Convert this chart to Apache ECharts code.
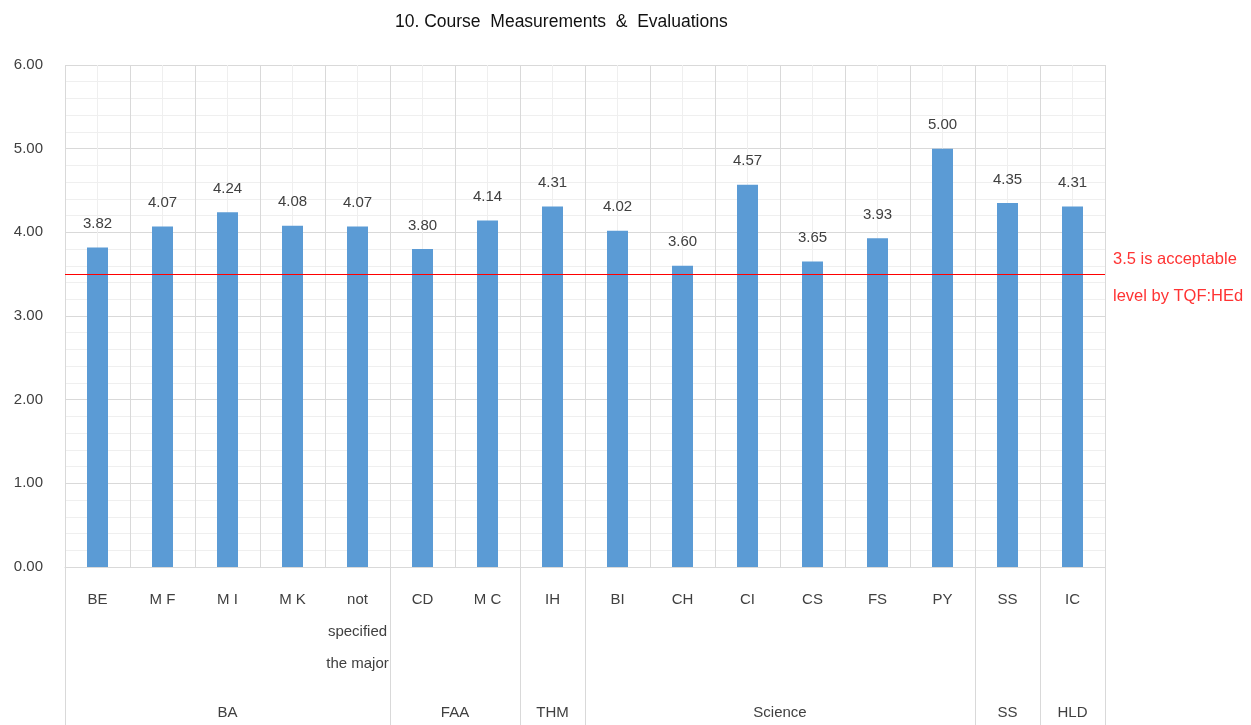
<!DOCTYPE html>
<html>
<head>
<meta charset="utf-8">
<script src="https://cdn.jsdelivr.net/npm/echarts@6/dist/echarts.min.js"></script>
<style>html,body{margin:0;padding:0;background:#fff;}#c{width:1251px;height:725px;}</style>
</head>
<body>
<div id="c"></div>
<script>
const categories = ['BE','M F','M I','M K','not\nspecified\nthe major','CD','M C','IH','BI','CH','CI','CS','FS','PY','SS','IC'];
const values = [3.82,4.07,4.24,4.08,4.07,3.80,4.14,4.31,4.02,3.60,4.57,3.65,3.93,5.00,4.35,4.31];
const groups = ['BA','FAA','THM','Science','SS','HLD'];
const groupSizes = [5,2,1,6,1,1];
const yTicks = [0,1,2,3,4,5,6];
const threshold = 3.5;
const thresholdText = '3.5 is acceptable\nlevel by TQF:HEd';
const titleText = '10. Course  Measurements  &  Evaluations';

// half-category slots for the group axis (boundaryGap false, 2*n+1 points)
const halfSlots = [];
for (let i = 0; i <= categories.length * 2; i++) halfSlots.push('');
const boundaryIdx = new Set([0]);
const groupLabelAt = {};
let acc = 0;
groups.forEach((g, i) => {
  const start = acc;
  acc += groupSizes[i];
  boundaryIdx.add(acc * 2);
  const mid = start + acc;
  groupLabelAt[mid] = g;
  halfSlots[mid] = g;
});

const font = 'Liberation Sans, Arial, sans-serif';
const chart = echarts.init(document.getElementById('c'));
chart.setOption({
  animation: false,
  textStyle: { fontFamily: font },
  title: {
    text: titleText,
    left: 390, top: 8,
    textStyle: { fontSize: 17.5, fontWeight: 'normal', color: '#111', fontFamily: font }
  },
  grid: { left: 65, right: 146, top: 65, bottom: 158 },
  xAxis: [
    {
      type: 'category',
      data: categories,
      boundaryGap: true,
      axisLine: { show: true, lineStyle: { color: '#d9d9d9', width: 1 } },
      axisTick: { show: false },
      splitLine: { show: true, lineStyle: { color: '#d9d9d9', width: 1 } },
      axisLabel: { interval: 0, color: '#404040', fontSize: 15, lineHeight: 32, margin: 17 }
    },
    {
      type: 'category',
      data: halfSlots,
      boundaryGap: false,
      position: 'bottom',
      axisLine: { show: false },
      axisTick: {
        show: true, length: 158, inside: false,
        interval: (idx) => boundaryIdx.has(idx),
        lineStyle: { color: '#d9d9d9', width: 1 }
      },
      splitLine: {
        show: true,
        interval: (idx) => idx % 2 === 1,
        lineStyle: { color: '#efefef', width: 1 }
      },
      axisLabel: {
        interval: (idx) => groupLabelAt[idx] !== undefined,
        color: '#404040', fontSize: 15, margin: 138
      }
    }
  ],
  yAxis: {
    type: 'value',
    min: yTicks[0], max: yTicks[yTicks.length - 1], interval: 1,
    axisLine: { show: false },
    axisTick: { show: false },
    axisLabel: { formatter: v => v.toFixed(2), color: '#404040', fontSize: 15, margin: 22 },
    splitLine: { show: true, lineStyle: { color: '#d9d9d9', width: 1 } },
    minorTick: { show: false, splitNumber: 5 },
    minorSplitLine: { show: true, lineStyle: { color: '#efefef', width: 1 } }
  },
  series: [{
    type: 'bar',
    data: values,
    xAxisIndex: 0,
    barWidth: 21,
    itemStyle: { color: '#5b9bd5' },
    label: {
      show: true, position: 'top', distance: 16,
      formatter: p => p.value.toFixed(2),
      color: '#404040', fontSize: 15
    },
    markLine: {
      silent: true,
      symbol: 'none',
      data: [{ yAxis: threshold }],
      lineStyle: { color: '#ff0000', width: 1, type: 'solid' },
      label: {
        show: true, position: 'end', distance: 8,
        offset: [0, 4],
        formatter: thresholdText,
        color: '#ff3333', fontSize: 16.5, lineHeight: 37, align: 'left'
      }
    }
  }]
});
</script>
</body>
</html>
